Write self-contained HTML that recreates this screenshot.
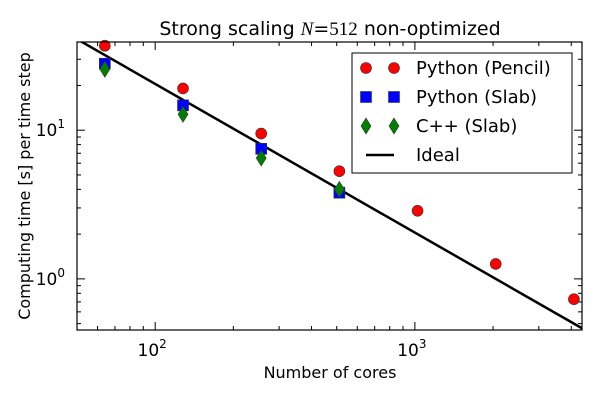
<!DOCTYPE html>
<html><head><meta charset="utf-8"><style>
body{margin:0;background:#fff;}
svg text{font-family:"DejaVu Sans","Liberation Sans",sans-serif;fill:#000;}
</style></head><body>
<svg id="chart" width="600" height="400"></svg>
<script>
const cores=[64,128,256,512,1024,2048,4096];
const pencil=[37,19.1,9.5,5.3,2.87,1.26,0.73];
const slabCores=[64,128,256,512];
const slab=[28,14.7,7.5,3.8];
const cpp=[25.7,12.8,6.5,4.0];
const idealC=2048;
const xTicks=[100,1000];
const xTickLabels=["2","3"];
const yTicks=[1,10];
const yTickLabels=["0","1"];

const L=77,R=582,T=42,B=330;
const xmin=Math.log10(50),xmax=Math.log10(4400);
const ymin=Math.log10(0.453),ymax=Math.log10(39.2);
const X=v=>L+(Math.log10(v)-xmin)/(xmax-xmin)*(R-L);
const Y=v=>B-(Math.log10(v)-ymin)/(ymax-ymin)*(B-T);
const svg=document.getElementById('chart');
const NS="http://www.w3.org/2000/svg";
function mk(tag,a,parent){const e=document.createElementNS(NS,tag);for(const k in a)e.setAttribute(k,a[k]);(parent||svg).appendChild(e);return e;}

const defs=mk('defs',{});
const cp=mk('clipPath',{id:'clip'},defs);mk('rect',{x:L,y:T,width:R-L,height:B-T},cp);

for(let d=1;d<=4;d++)for(let m=1;m<10;m++){const v=m*Math.pow(10,d);if(v<50||v>4400)continue;const x=X(v);const len=m===1?8:4;
const t1=mk('line',{x1:x,x2:x,y1:B,y2:B-len,stroke:'#000','stroke-width':1});


mk('line',{x1:x,x2:x,y1:T,y2:T+len,stroke:'#000','stroke-width':1});}
for(let d=-1;d<=1;d++)for(let m=1;m<10;m++){const v=m*Math.pow(10,d);if(v<0.453||v>39.2)continue;const y=Y(v);const len=m===1?8:4;
const t2=mk('line',{x1:L,x2:L+len,y1:y,y2:y,stroke:'#000','stroke-width':1});


mk('line',{x1:R,x2:R-len,y1:y,y2:y,stroke:'#000','stroke-width':1});}

xTicks.forEach((v,i)=>{const t=mk('text',{x:X(v)-3,y:B+26,'text-anchor':'middle','font-size':17});t.innerHTML='10<tspan dy="-8" font-size="12">'+xTickLabels[i]+'</tspan>';

});
yTicks.forEach((v,i)=>{const t=mk('text',{x:L-12,y:Y(v)+6,'text-anchor':'end','font-size':17});t.innerHTML='10<tspan dy="-8" font-size="12">'+yTickLabels[i]+'</tspan>';

});

const g=mk('g',{'clip-path':'url(#clip)'});


const ideal=mk('line',{x1:X(50),y1:Y(idealC/50),x2:X(4400),y2:Y(idealC/4400),stroke:'#000','stroke-width':2.5},g);



const all=mk('g',{});
pencil.forEach((v,i)=>{const c=mk('circle',{cx:X(cores[i]),cy:Y(v),r:5.5,fill:'#ff0000',stroke:'#333','stroke-width':0.6},all);

});
slab.forEach((v,i)=>{const x=X(slabCores[i]),y=Y(v);const s=mk('rect',{x:x-5.5,y:y-5.5,width:11,height:11,fill:'#0000ff',stroke:'#333','stroke-width':0.6},all);

});
cpp.forEach((v,i)=>{const x=X(slabCores[i]),y=Y(v);const p=mk('polygon',{points:`${x},${y-8} ${x+5},${y} ${x},${y+8} ${x-5},${y}`,fill:'#007f00',stroke:'#333','stroke-width':0.6},all);

});

const frame=mk('rect',{x:L,y:T,width:R-L,height:B-T,fill:'none',stroke:'#000','stroke-width':1.2});



const title=mk('text',{x:330,y:35,'text-anchor':'middle','font-size':19});
title.innerHTML='Strong scaling <tspan font-family="Liberation Serif" font-style="italic">N</tspan>=<tspan font-family="Liberation Serif">512</tspan> non-optimized';


const xl=mk('text',{x:330,y:378,'text-anchor':'middle','font-size':16});xl.textContent='Number of cores';


const yl=mk('text',{x:30,y:186,'text-anchor':'middle','font-size':16,transform:'rotate(-90 30 186)'});yl.textContent='Computing time [s] per time step';



const lg=mk('g',{});


mk('rect',{x:352,y:53,width:220,height:120,fill:'#fff',stroke:'#000','stroke-width':1},lg);
const entries=['Python (Pencil)','Python (Slab)','C++ (Slab)','Ideal'];
entries.forEach((name,i)=>{const y=68+i*29;const e=mk('g',{},lg);


[366,394].forEach(x=>{
if(i===0)mk('circle',{cx:x,cy:y,r:5.5,fill:'#ff0000',stroke:'#333','stroke-width':0.6},e);
if(i===1)mk('rect',{x:x-5.5,y:y-5.5,width:11,height:11,fill:'#0000ff',stroke:'#333','stroke-width':0.6},e);
if(i===2)mk('polygon',{points:`${x},${y-8} ${x+5},${y} ${x},${y+8} ${x-5},${y}`,fill:'#007f00',stroke:'#333','stroke-width':0.6},e);});
if(i===3)mk('line',{x1:366,x2:394,y1:y,y2:y,stroke:'#000','stroke-width':2.5},e);
const t=mk('text',{x:416,y:y+6,'font-size':18},e);t.textContent=name;});
</script>
</body></html>
